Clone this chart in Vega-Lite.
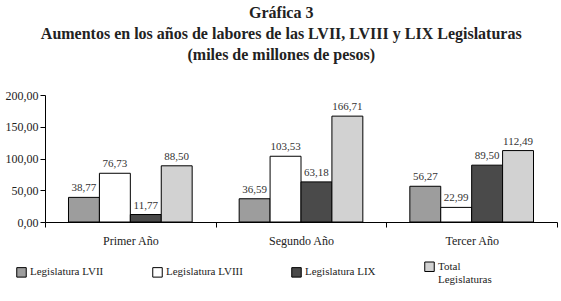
{
  "$schema": "https://vega.github.io/schema/vega-lite/v6.json",
  "width": 512,
  "height": 127,
  "config": {
    "locale": {"number": {"decimal": ",", "thousands": ".", "grouping": [3], "currency": ["$", ""]}},
    "font": "Liberation Serif",
    "view": {"stroke": null},
    "background": "white"
  },
  "title": {
    "text": ["Gráfica 3", "Aumentos en los años de labores de las LVII, LVIII y LIX Legislaturas", "(miles de millones de pesos)"],
    "font": "Liberation Serif",
    "fontSize": 16,
    "fontWeight": "bold",
    "lineHeight": 21,
    "color": "#222222",
    "anchor": "middle",
    "frame": "bounds",
    "offset": 26
  },
  "data": {
    "values": [
      {"anio": "Primer Año", "serie": "Legislatura LVII", "valor": 38.77},
      {"anio": "Primer Año", "serie": "Legislatura LVIII", "valor": 76.73},
      {"anio": "Primer Año", "serie": "Legislatura LIX", "valor": 11.77},
      {"anio": "Primer Año", "serie": "Total Legislaturas", "valor": 88.50},
      {"anio": "Segundo Año", "serie": "Legislatura LVII", "valor": 36.59},
      {"anio": "Segundo Año", "serie": "Legislatura LVIII", "valor": 103.53},
      {"anio": "Segundo Año", "serie": "Legislatura LIX", "valor": 63.18},
      {"anio": "Segundo Año", "serie": "Total Legislaturas", "valor": 166.71},
      {"anio": "Tercer Año", "serie": "Legislatura LVII", "valor": 56.27},
      {"anio": "Tercer Año", "serie": "Legislatura LVIII", "valor": 22.99},
      {"anio": "Tercer Año", "serie": "Legislatura LIX", "valor": 89.50},
      {"anio": "Tercer Año", "serie": "Total Legislaturas", "valor": 112.49}
    ]
  },
  "encoding": {
    "x": {
      "field": "anio",
      "type": "nominal",
      "sort": ["Primer Año", "Segundo Año", "Tercer Año"],
      "scale": {"paddingInner": 0, "paddingOuter": 0},
      "axis": {
        "title": null,
        "labelAngle": 0,
        "labelFont": "Liberation Serif",
        "labelFontSize": 12,
        "labelColor": "#222222",
        "labelPadding": 8,
        "domainColor": "black",
        "tickColor": "black",
        "tickSize": 5,
        "tickBand": "extent"
      }
    },
    "xOffset": {
      "field": "serie",
      "type": "nominal",
      "sort": ["Legislatura LVII", "Legislatura LVIII", "Legislatura LIX", "Total Legislaturas"],
      "scale": {"paddingInner": 0, "paddingOuter": 0.76}
    },
    "y": {
      "field": "valor",
      "type": "quantitative",
      "scale": {"domain": [0, 200]},
      "axis": {
        "title": null,
        "values": [0, 50, 100, 150, 200],
        "format": ".2f",
        "grid": false,
        "labelFont": "Liberation Serif",
        "labelFontSize": 12,
        "labelColor": "#222222",
        "domainColor": "black",
        "tickColor": "black",
        "tickSize": 5
      }
    }
  },
  "layer": [
    {
      "mark": {"type": "bar", "stroke": "black", "strokeWidth": 1},
      "encoding": {
        "color": {
          "field": "serie",
          "type": "nominal",
          "scale": {
            "domain": ["Legislatura LVII", "Legislatura LVIII", "Legislatura LIX", "Total Legislaturas"],
            "range": ["#9d9d9d", "#ffffff", "#4a4a4a", "#d2d2d2"]
          },
          "legend": {
            "title": null,
            "orient": "none",
            "legendX": -29,
            "legendY": 166,
            "direction": "horizontal",
            "columns": 4,
            "columnPadding": 46,
            "symbolType": "square",
            "symbolSize": 90,
            "symbolStrokeColor": "black",
            "symbolStrokeWidth": 1,
            "labelFont": "Liberation Serif",
            "labelFontSize": 11,
            "labelColor": "#222222",
            "labelOffset": 3,
            "labelExpr": "datum.label == 'Total Legislaturas' ? ['Total', 'Legislaturas'] : datum.label"
          }
        }
      }
    },
    {
      "mark": {"type": "text", "dy": -9, "fontSize": 11, "color": "#333333", "font": "Liberation Serif"},
      "encoding": {
        "text": {"field": "valor", "type": "quantitative", "format": ".2f"}
      }
    }
  ]
}
